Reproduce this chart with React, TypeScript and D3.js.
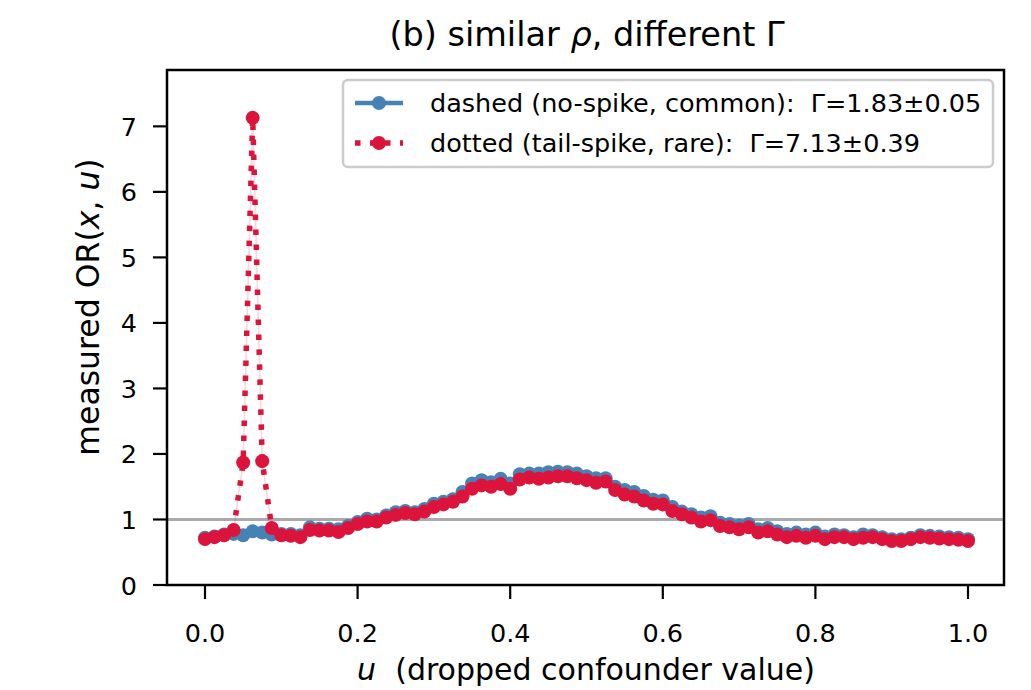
import React from "react";
import * as d3 from "d3";

const uGrid: number[] = d3.range(81).map((i) => i / 80);

const dashedSeries: number[] = [
  0.72, 0.74, 0.77, 0.78, 0.76, 0.82, 0.80, 0.77, 0.78, 0.78,
  0.76, 0.88, 0.86, 0.86, 0.85, 0.90, 0.96, 1.01, 1.00, 1.06,
  1.11, 1.13, 1.11, 1.16, 1.24, 1.27, 1.31, 1.42, 1.55, 1.60,
  1.57, 1.62, 1.55, 1.69, 1.70, 1.70, 1.72, 1.73, 1.72, 1.70,
  1.66, 1.63, 1.63, 1.50, 1.45, 1.42, 1.36, 1.30, 1.29, 1.19,
  1.12, 1.08, 1.03, 1.05, 0.95, 0.93, 0.91, 0.93, 0.85, 0.87,
  0.82, 0.78, 0.80, 0.77, 0.80, 0.74, 0.77, 0.76, 0.73, 0.77,
  0.76, 0.73, 0.70, 0.70, 0.72, 0.76, 0.75, 0.74, 0.73, 0.72,
  0.70,
];

const dottedSeries: number[] = [
  0.70, 0.73, 0.76, 0.84, 1.87, 7.13, 1.89, 0.87, 0.76, 0.75,
  0.73, 0.84, 0.83, 0.83, 0.81, 0.87, 0.93, 0.97, 0.97, 1.03,
  1.07, 1.10, 1.08, 1.12, 1.19, 1.23, 1.27, 1.35, 1.47, 1.52,
  1.50, 1.54, 1.47, 1.61, 1.64, 1.62, 1.64, 1.66, 1.66, 1.63,
  1.60, 1.56, 1.58, 1.45, 1.38, 1.35, 1.29, 1.24, 1.23, 1.13,
  1.08, 1.03, 0.97, 0.99, 0.90, 0.88, 0.85, 0.88, 0.80, 0.82,
  0.77, 0.73, 0.75, 0.72, 0.75, 0.70, 0.73, 0.73, 0.70, 0.72,
  0.73, 0.70, 0.67, 0.67, 0.70, 0.73, 0.72, 0.71, 0.70, 0.69,
  0.67,
];

const xTicks: number[] = [0, 0.2, 0.4, 0.6, 0.8, 1.0];
const yTicks: number[] = [0, 1, 2, 3, 4, 5, 6, 7];
const legendLabels: string[] = [
  "dashed (no-spike, common):  \u0393=1.83\u00b10.05",
  "dotted (tail-spike, rare):  \u0393=7.13\u00b10.39",
];

const BLUE = "#4682b4";
const RED = "#dc143c";
const FONT = "'DejaVu Sans', sans-serif";

export default function App() {
  const W = 1031;
  const H = 690;
  const left = 167, right = 1004, top = 70, bottom = 585;

  const x = d3.scaleLinear().domain([0, 1]).range([205, 968]);
  const y = d3.scaleLinear().domain([0, 7.86]).range([bottom, top]);

  const line = d3
    .line<number>()
    .x((_, i) => x(uGrid[i]))
    .y((d) => y(d));

  const pre = { whiteSpace: "pre" as const };
  const R = 7;

  return (
    <svg
      width={W}
      height={H}
      style={{ position: "absolute", left: 0, top: 0, background: "#fff" }}
      fontFamily={FONT}
    >
      <rect x={0} y={0} width={W} height={H} fill="#fff" />
      <text x={587} y={46} textAnchor="middle" fontSize={33.5} fill="#000">
        (b) similar <tspan fontStyle="italic">ρ</tspan>, different Γ
      </text>

      <defs>
        <clipPath id="plotclip">
          <rect x={left} y={top} width={right - left} height={bottom - top} />
        </clipPath>
      </defs>

      <line
        x1={left}
        x2={right}
        y1={y(1)}
        y2={y(1)}
        stroke="#aaaaaa"
        strokeWidth={3}
      />

      <g clipPath="url(#plotclip)">
        <path d={line(dashedSeries) || ""} fill="none" stroke={BLUE} strokeWidth={4.5} />
        {dashedSeries.map((v, i) => (
          <circle key={"b" + i} cx={x(uGrid[i])} cy={y(v)} r={R} fill={BLUE} />
        ))}
        <path d={line(dottedSeries) || ""} fill="none" stroke={RED} strokeOpacity={0.18} strokeWidth={1.5} />
        <path
          d={line(dottedSeries) || ""}
          fill="none"
          stroke={RED}
          strokeWidth={5.5}
          strokeDasharray="5.5 9.5"
        />
        {dottedSeries.map((v, i) => (
          <circle key={"r" + i} cx={x(uGrid[i])} cy={y(v)} r={R} fill={RED} />
        ))}
      </g>

      <rect
        x={left}
        y={top}
        width={right - left}
        height={bottom - top}
        fill="none"
        stroke="#000"
        strokeWidth={2.5}
      />

      {xTicks.map((t) => (
        <g key={"xt" + t}>
          <line x1={x(t)} x2={x(t)} y1={bottom} y2={bottom + 14} stroke="#000" strokeWidth={2.2} />
          <text x={x(t)} y={642} textAnchor="middle" fontSize={25.5} fill="#000">
            {t.toFixed(1)}
          </text>
        </g>
      ))}
      {yTicks.map((t) => (
        <g key={"yt" + t}>
          <line x1={left - 14} x2={left} y1={y(t)} y2={y(t)} stroke="#000" strokeWidth={2.2} />
          <text x={137} y={y(t) + 9.5} textAnchor="end" fontSize={25.5} fill="#000">
            {t}
          </text>
        </g>
      ))}

      <text x={586} y={680} textAnchor="middle" fontSize={30} fill="#000" style={pre}>
        <tspan fontStyle="italic">u</tspan>
        <tspan>{"  (dropped confounder value)"}</tspan>
      </text>
      <text
        transform={`translate(99, 307) rotate(-90)`}
        textAnchor="middle"
        fontSize={31.5}
        fill="#000"
        style={pre}
      >
        measured OR(<tspan fontStyle="italic">x</tspan>, <tspan fontStyle="italic">u</tspan>)
      </text>

      <g>
        <rect
          x={343}
          y={80}
          width={650}
          height={87}
          rx={5}
          fill="#fff"
          fillOpacity={0.8}
          stroke="#cccccc"
          strokeWidth={2.5}
        />
        <line x1={355} x2={403} y1={103} y2={103} stroke={BLUE} strokeWidth={4.5} />
        <circle cx={379} cy={103} r={R} fill={BLUE} />
        <text x={430} y={112} fontSize={25.5} fill="#000" style={pre}>
          {legendLabels[0]}
        </text>
        <line
          x1={355}
          x2={403}
          y1={143}
          y2={143}
          stroke={RED}
          strokeWidth={5.5}
          strokeDasharray="5.5 9.5"
        />
        <circle cx={379} cy={143} r={R} fill={RED} />
        <text x={430} y={152} fontSize={25.5} fill="#000" style={pre}>
          {legendLabels[1]}
        </text>
      </g>
    </svg>
  );
}
